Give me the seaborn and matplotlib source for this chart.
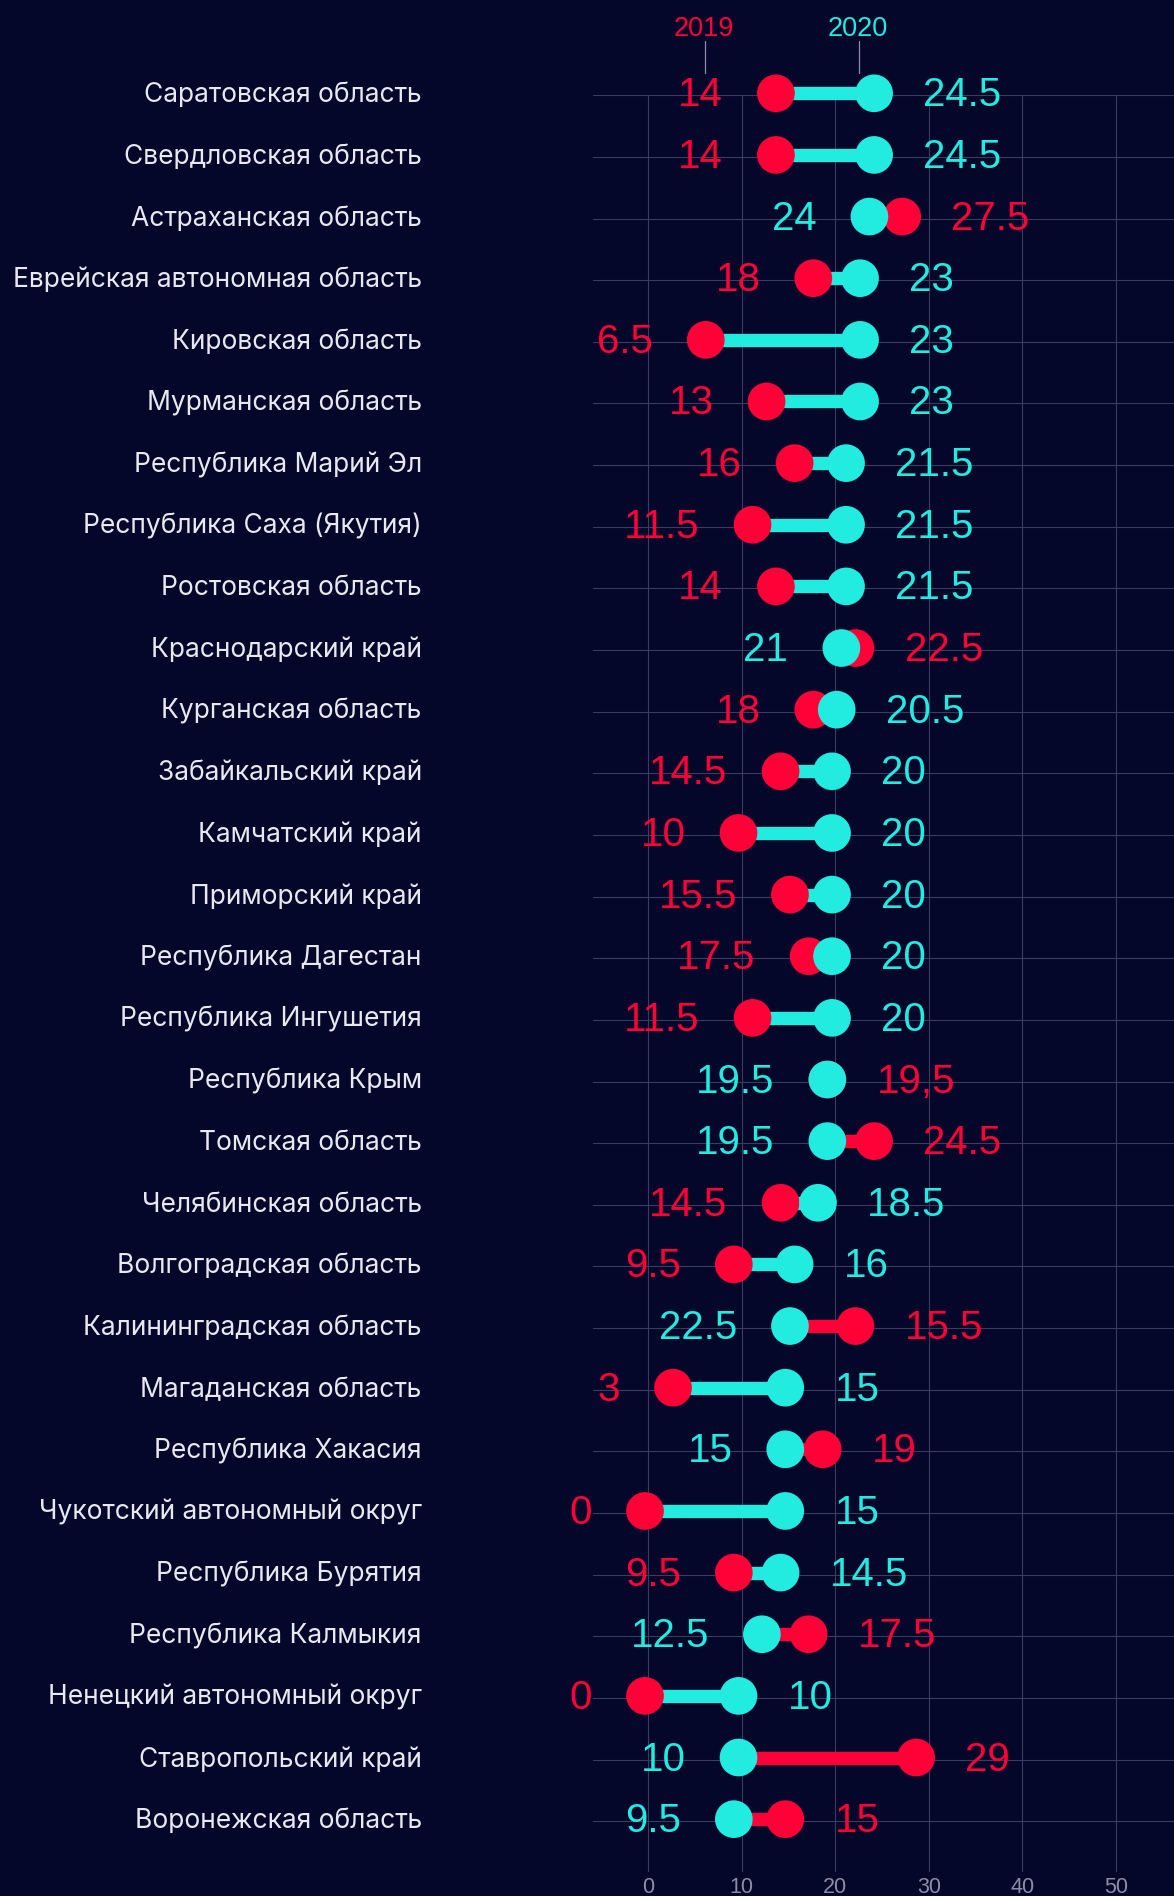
import matplotlib
matplotlib.use("Agg")
import matplotlib.pyplot as plt
from matplotlib.transforms import ScaledTranslation
from matplotlib.lines import Line2D
import seaborn as sns
import pandas as pd
import numpy as np

# ---------------- data ----------------
regions = [
    "Саратовская область", "Свердловская область", "Астраханская область",
    "Еврейская автономная область", "Кировская область", "Мурманская область",
    "Республика Марий Эл", "Республика Саха (Якутия)", "Ростовская область",
    "Краснодарский край", "Курганская область", "Забайкальский край",
    "Камчатский край", "Приморский край", "Республика Дагестан",
    "Республика Ингушетия", "Республика Крым", "Томская область",
    "Челябинская область", "Волгоградская область", "Калининградская область",
    "Магаданская область", "Республика Хакасия", "Чукотский автономный округ",
    "Республика Бурятия", "Республика Калмыкия", "Ненецкий автономный округ",
    "Ставропольский край", "Воронежская область",
]
v2019 = [14, 14, 27.5, 18, 6.5, 13, 16, 11.5, 14, 22.5, 18, 14.5, 10, 15.5, 17.5,
         11.5, 19.5, 24.5, 14.5, 9.5, 22.5, 3, 19, 0, 9.5, 17.5, 0, 29, 15]
v2020 = [24.5, 24.5, 24, 23, 23, 23, 21.5, 21.5, 21.5, 21, 20.5, 20, 20, 20, 20,
         20, 19.5, 19.5, 18.5, 16, 15.5, 15, 15, 15, 14.5, 12.5, 10, 10, 9.5]
lbl2019 = ["14", "14", "27.5", "18", "6.5", "13", "16", "11.5", "14", "22.5", "18",
           "14.5", "10", "15.5", "17.5", "11.5", "19,5", "24.5", "14.5", "9.5",
           "15.5", "3", "19", "0", "9.5", "17.5", "0", "29", "15"]
lbl2020 = ["24.5", "24.5", "24", "23", "23", "23", "21.5", "21.5", "21.5", "21",
           "20.5", "20", "20", "20", "20", "20", "19.5", "19.5", "18.5", "16",
           "22.5", "15", "15", "15", "14.5", "12.5", "10", "10", "9.5"]
xticks = [0, 10, 20, 30, 40, 50]
years = ["2019", "2020"]

# ---------------- style ----------------
BG = "#04072a"
RED = "#ff0037"
CYAN = "#22ebdf"
GRID = "#3a3d5e"
TICK = "#8b8da6"
TXT = "#e8e8f0"
NUMFONT = ["Liberation Sans", "DejaVu Sans"]

sns.set_theme(style="dark", rc={"axes.facecolor": BG, "figure.facecolor": BG})
plt.rcParams["font.family"] = ["Inter", "DejaVu Sans"]

DPI = 100
W, H = 1174, 1896
fig = plt.figure(figsize=(W / DPI, H / DPI), dpi=DPI)
fig.patch.set_facecolor(BG)
ax_l, ax_r, ax_t, ax_b = 592.7, 1174, 95.3, 1871.7
ax = fig.add_axes([ax_l / W, 1 - ax_b / H, (ax_r - ax_l) / W, (ax_b - ax_t) / H])
ax.set_facecolor(BG)

n = len(regions)
rows = np.arange(n)
df = pd.DataFrame({
    "row": np.concatenate([rows, rows]),
    "value": v2019 + v2020,
    "year": [years[0]] * n + [years[1]] * n,
})

off = ScaledTranslation(-3.3 / DPI, 2 / DPI, fig.dpi_scale_trans)

bar_colors = [CYAN if b > a else RED for a, b in zip(v2019, v2020)]
lc = ax.hlines(rows, v2019, v2020, colors=bar_colors, linewidth=9.6, zorder=2)
lc.set_transform(ax.transData + off)
lc.set_clip_on(False)

sns.scatterplot(data=df, x="value", y="row", hue="year",
                palette={years[0]: RED, years[1]: CYAN}, s=736, linewidth=0,
                edgecolor="none", legend=False, clip_on=False, zorder=3, ax=ax)
pts = ax.collections[-1]
pts.set_offset_transform(ax.transData + off)

ax.set_xlim(-5.947, 56.22)
ax.set_ylim(28.82, 0)
ax.set_xlabel("")
ax.set_ylabel("")

# value labels
for i in range(n):
    a, b = v2019[i], v2020[i]
    if b <= a:
        left = (b, lbl2020[i], CYAN)
        right = (a, lbl2019[i], RED)
    else:
        left = (a, lbl2019[i], RED)
        right = (b, lbl2020[i], CYAN)
    ax.annotate(left[1], xy=(left[0], i), xytext=(-56.3, 0), textcoords="offset pixels",
                ha="right", va="center", color=left[2], fontsize=29,
                family=NUMFONT, annotation_clip=False, zorder=4)
    ax.annotate(right[1], xy=(right[0], i), xytext=(46, 0), textcoords="offset pixels",
                ha="left", va="center", color=right[2], fontsize=29,
                family=NUMFONT, annotation_clip=False, zorder=4)

# axes styling
ax.set_xticks(xticks)
ax.set_xticklabels([str(t) for t in xticks], family=NUMFONT)
ax.set_yticks(rows)
ax.set_yticklabels(regions)
ax.grid(True, color=GRID, linewidth=0.8)
ax.set_axisbelow(True)
ax.tick_params(axis="y", length=0, pad=123, labelsize=19, labelcolor=TXT)
ax.tick_params(axis="x", length=0, pad=4, labelsize=15.5, labelcolor=TICK)
for t in ax.get_yticklabels():
    t.set_verticalalignment("center")
for s in ax.spines.values():
    s.set_visible(False)

# header annotations
for label, col, xc, xl in [(years[0], RED, 704, 705.3), (years[1], CYAN, 857.7, 858.7)]:
    fig.text(xc / W, 1 - 28.5 / H, label, color=col, fontsize=19.5, ha="center",
             va="center", family=NUMFONT)
    fig.add_artist(Line2D([xl / W, xl / W], [1 - 40.7 / H, 1 - 72.7 / H],
                          transform=fig.transFigure, color=TICK, linewidth=0.9))

fig.savefig("out.png", dpi=DPI, facecolor=BG)
